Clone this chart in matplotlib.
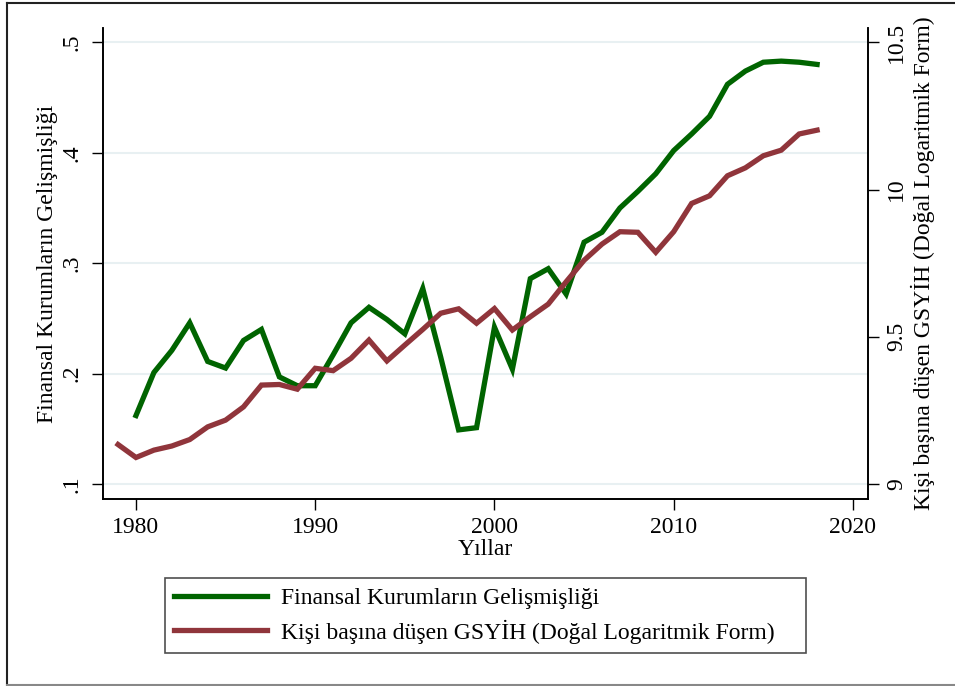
import matplotlib
matplotlib.use("Agg")
import matplotlib.pyplot as plt
from matplotlib.lines import Line2D

plt.rcParams['font.family'] = ['Liberation Serif', 'DejaVu Serif']

# data
years_fin = list(range(1980, 2019))
fin_dev = [0.162, 0.201, 0.221, 0.246, 0.211, 0.205, 0.230, 0.240, 0.197, 0.189,
           0.189, 0.217, 0.246, 0.260, 0.249, 0.236, 0.277, 0.215, 0.149, 0.151,
           0.242, 0.204, 0.286, 0.295, 0.272, 0.319, 0.328, 0.350, 0.365, 0.381,
           0.402, 0.417, 0.433, 0.462, 0.474, 0.482, 0.483, 0.482, 0.480]

years_gdp = list(range(1979, 2019))
ln_gdp = [9.134, 9.090, 9.115, 9.129, 9.151, 9.194, 9.217, 9.262, 9.336, 9.338,
          9.322, 9.393, 9.385, 9.427, 9.489, 9.418, 9.472, 9.525, 9.580, 9.595,
          9.546, 9.596, 9.523, 9.568, 9.611, 9.687, 9.760, 9.815, 9.857, 9.855,
          9.787, 9.857, 9.953, 9.979, 10.047, 10.074, 10.115, 10.134, 10.189, 10.202]

x_ticks = [1980, 1990, 2000, 2010, 2020]
left_ticks = [0.1, 0.2, 0.3, 0.4, 0.5]
left_labels = [".1", ".2", ".3", ".4", ".5"]
right_ticks = [9, 9.5, 10, 10.5]
right_labels = ["9", "9.5", "10", "10.5"]

label_fin = "Finansal Kurumların Gelişmişliği"
label_gdp = "Kişi başına düşen GSYİH (Doğal Logaritmik Form)"

green = "#006400"
maroon = "#90353b"
fs = 17

fig = plt.figure(figsize=(9.55, 6.86), dpi=100)
fig.patch.set_facecolor("white")

# outer frame of the original export
fig.add_artist(Line2D([7/955, 7/955], [1 - 3/686, 1 - 685/686], transform=fig.transFigure, color="#222222", lw=1.5))
fig.add_artist(Line2D([7/955, 1.0], [1 - 3/686, 1 - 3/686], transform=fig.transFigure, color="#222222", lw=1.5))
fig.add_artist(Line2D([7/955, 1.0], [1 - 685/686, 1 - 685/686], transform=fig.transFigure, color="#888888", lw=1.5))

ax = fig.add_axes([103/955, 1 - 499/686, 765/955, 471/686])
ax2 = ax.twinx()

ax.plot(years_fin, fin_dev, color=green, lw=3.8, solid_joinstyle="miter", zorder=3)
ax2.plot(years_gdp, ln_gdp, color=maroon, lw=3.8, solid_joinstyle="miter", zorder=3)

ax.set_xlim(1978.16, 2020.84)
ax.set_ylim(0.0864, 0.513)
ax2.set_ylim(8.949, 10.549)

ax.set_xticks(x_ticks)
ax.set_xticklabels([str(t) for t in x_ticks], fontsize=fs)
ax.set_yticks(left_ticks)
ax.set_yticklabels(left_labels, fontsize=fs, rotation=90, va="center")
ax2.set_yticks(right_ticks)
ax2.set_yticklabels(right_labels, fontsize=fs, rotation=90, va="center")

ax.tick_params(axis="both", direction="out", length=8, width=1, color="black")
ax.tick_params(axis="x", pad=5)
ax.tick_params(axis="y", pad=7)
ax2.tick_params(axis="y", direction="out", length=8, width=1, pad=5)

ax.yaxis.grid(True, color="#e8f0f2", lw=1.5)
ax.set_axisbelow(True)

for a in (ax, ax2):
    a.spines["top"].set_visible(False)
    for s in ("left", "right", "bottom"):
        a.spines[s].set_linewidth(1.2)

ax.set_xlabel("Yıllar", fontsize=fs, labelpad=1)
ax.set_ylabel(label_fin, fontsize=fs, labelpad=2)
ax2.set_ylabel(label_gdp, fontsize=fs, rotation=90, labelpad=3)

handles = [Line2D([], [], color=green, lw=3.8), Line2D([], [], color=maroon, lw=3.8)]
leg = fig.legend(handles, [label_fin, label_gdp], loc="lower left",
                 bbox_to_anchor=(165/955, 1 - 653/686, 641/955, 76/686),
                 mode="expand", borderaxespad=0, fontsize=fs, frameon=True,
                 fancybox=False, handlelength=3.9, handletextpad=0.6,
                 labelspacing=0.45, borderpad=0.4)
leg.get_frame().set_edgecolor("#222222")
leg.get_frame().set_linewidth(1.2)

fig.savefig("out.png", dpi=100, facecolor="white")
